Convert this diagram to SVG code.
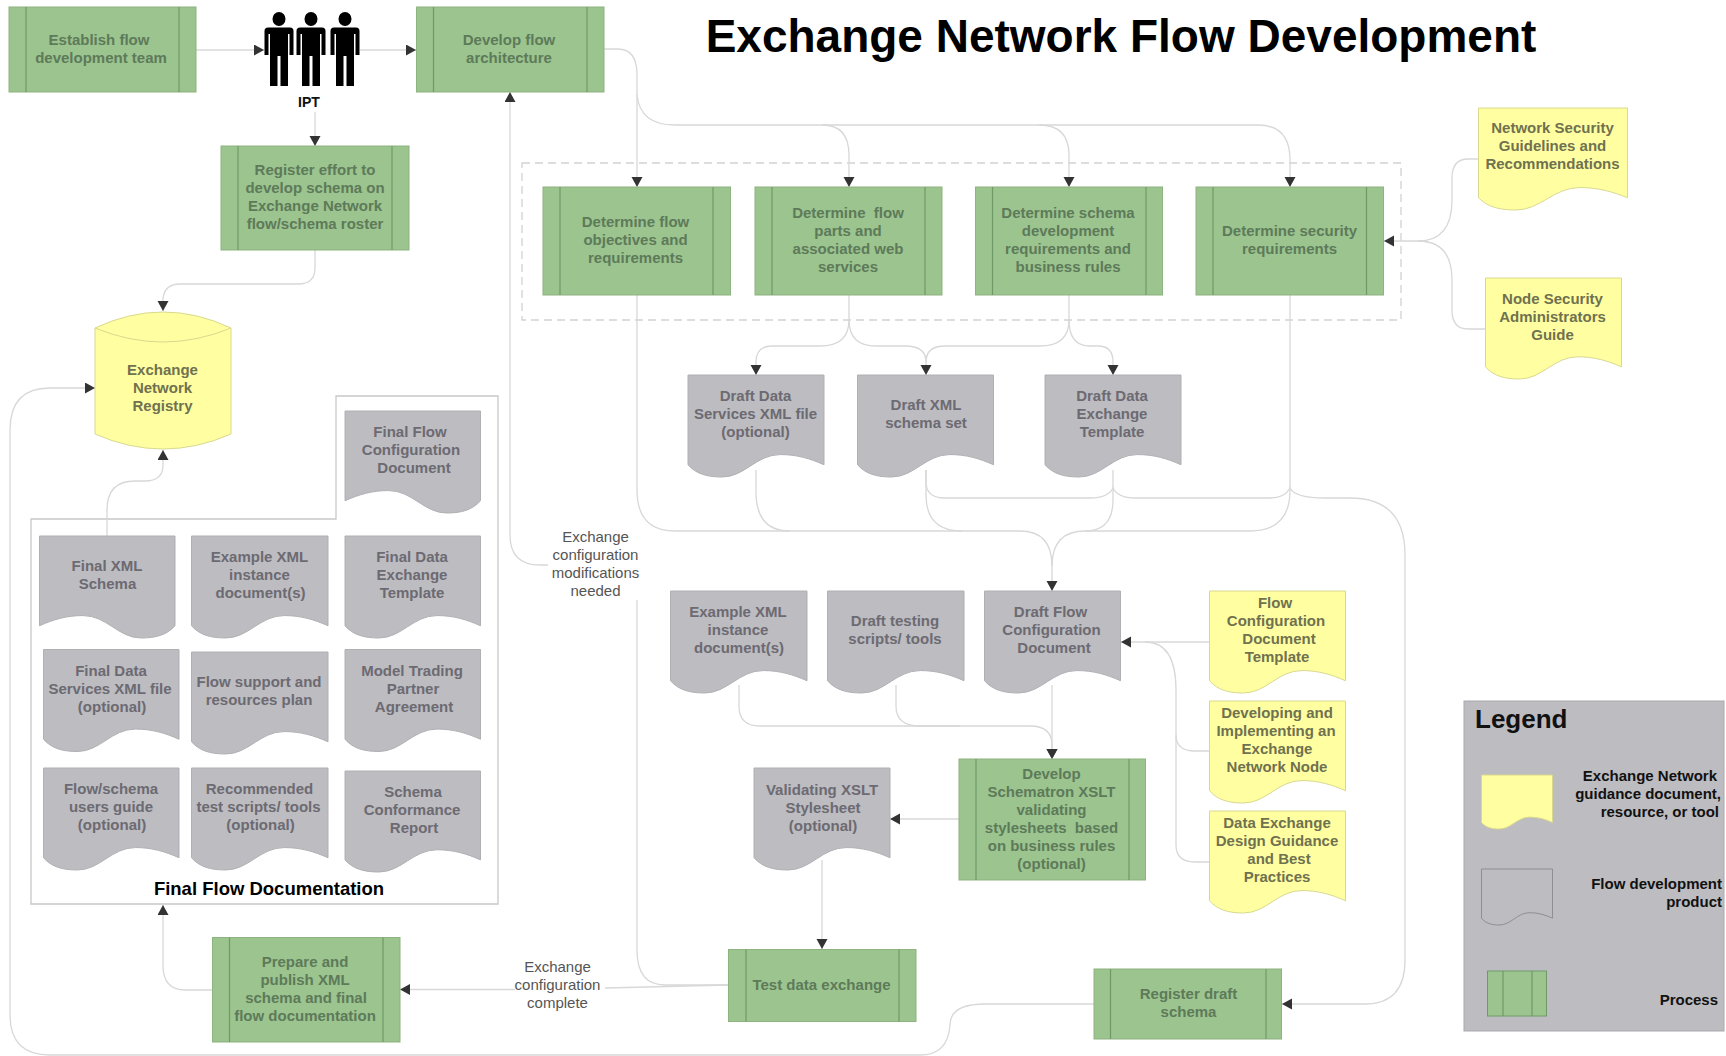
<svg xmlns="http://www.w3.org/2000/svg" width="1726" height="1056" viewBox="0 0 1726 1056">
<style>
text{font-family:"Liberation Sans",Arial,sans-serif;font-size:15px;font-weight:bold;text-anchor:middle;white-space:pre}
.pt{fill:#5d7a5a}.gt{fill:#6c6a72}.yt{fill:#70714f}.bt{fill:#111}.lt{fill:#555;font-weight:normal}
.p{fill:#9cc48e;stroke:#8db380;stroke-width:1}.pl{stroke:#6f9a68;stroke-width:1.2;fill:none}
.g{fill:#bdbcc0;stroke:#b0afb4;stroke-width:1}.y{fill:#ffffa2;stroke:#d9d98e;stroke-width:1}
.c{fill:none;stroke:#d8d8d8;stroke-width:1.3}
.e{text-anchor:end}
</style>
<defs>
<path id="doc" d="M0 0H100V88C90 82 80 78 68 78C50 78 42 100 25 100C14 100 6 97 0 88Z" vector-effect="non-scaling-stroke"/>
<path id="docm" d="M100 0H0V88C10 82 20 78 32 78C50 78 58 100 75 100C86 100 94 97 100 88Z" vector-effect="non-scaling-stroke"/>
<marker id="a" markerUnits="userSpaceOnUse" markerWidth="12" markerHeight="12" refX="10" refY="5.5" orient="auto"><path d="M0 0L10 5.5L0 11Z" fill="#333"/></marker>
<g id="person"><ellipse cx="0" cy="0" rx="6.5" ry="7"/><path d="M-11 8.5H11Q14.5 8.5 14.5 12V36H10.5V15H9V67H1.5V37H-1.5V67H-9V15H-10.5V36H-14.5V12Q-14.5 8.5 -11 8.5Z"/></g>
</defs>
<rect width="1726" height="1056" fill="#fff"/>
<text id="title" x="1121" y="52" class="bt" style="font-size:46px;fill:#000">Exchange Network Flow Development</text>
<rect id="security-group" x="522" y="163" width="879" height="157" fill="none" stroke="#d2d2d2" stroke-width="1.3" stroke-dasharray="8 5"/>
<path id="final-doc-frame" d="M31 519H336V396H498V904H31Z" fill="none" stroke="#c8c8c8" stroke-width="1.3"/>

<g id="connectors" class="c">
<path class="c" marker-end="url(#a)" d="M196 50H264"/>
<path class="c" marker-end="url(#a)" d="M360 50H416"/>
<path class="c" marker-end="url(#a)" d="M315 112V146"/>
<path class="c" marker-end="url(#a)" d="M315 250V268Q315 284 298 284H180Q165 284 163 298V311"/>
<path class="c" marker-end="url(#a)" d="M604 49H618Q637 49 637 75V187"/>
<path class="c" marker-end="url(#a)" d="M637 95Q640 125 675 125H1258Q1290 125 1290 160V187"/>
<path class="c" marker-end="url(#a)" d="M822 125Q849 125 849 155V187"/>
<path class="c" marker-end="url(#a)" d="M1039 125Q1069 125 1069 155V187"/>
<path class="c" marker-end="url(#a)" d="M1479 159H1468Q1452 159 1452 178V200Q1452 241 1418 241H1384"/>
<path class="c" d="M1486 329H1468Q1452 329 1452 310V280Q1452 241 1418 241"/>
<path class="c" marker-end="url(#a)" d="M849 295V320Q849 346 820 346H772Q756 346 756 362V375"/>
<path class="c" marker-end="url(#a)" d="M849 320Q849 346 876 346H905Q926 346 926 362V375"/>
<path class="c" d="M1069 295V320Q1069 346 1040 346H945Q926 346 926 362"/>
<path class="c" marker-end="url(#a)" d="M1069 320Q1069 346 1090 346H1098Q1113 346 1113 362V375"/>
<path class="c" marker-end="url(#a)" d="M637 295V490Q637 531 675 531H1020Q1052 531 1052 566V591"/>
<path class="c" d="M1290 295V490Q1290 531 1250 531H1085Q1052 531 1052 566"/>
<path class="c" d="M756 470V492Q756 531 790 531"/>
<path class="c" d="M926 470V495Q926 531 962 531"/>
<path class="c" d="M1113 470V500Q1113 531 1085 531"/>
<path class="c" marker-end="url(#a)" d="M926 470V482Q926 498 945 498H1090Q1108 498 1113 488Q1118 498 1135 498H1270Q1285 498 1290 488Q1295 498 1325 498H1350Q1405 498 1405 555V960Q1405 1004 1365 1004H1282"/>
<path class="c" marker-end="url(#a)" d="M1052 685V759"/>
<path class="c" marker-end="url(#a)" d="M739 685V706Q739 726 760 726H1030Q1052 726 1052 745V759"/>
<path class="c" d="M896 685V706Q896 726 920 726H960"/>
<path class="c" marker-end="url(#a)" d="M1209 642H1121"/>
<path class="c" d="M1209 751H1195Q1176 751 1176 735V690Q1176 642 1145 642"/>
<path class="c" d="M1209 862H1195Q1176 862 1176 845V735"/>
<path class="c" marker-end="url(#a)" d="M959 819H890"/>
<path class="c" marker-end="url(#a)" d="M822 860V949"/>
<path class="c" d="M728 985L605 988"/>
<path class="c" marker-end="url(#a)" d="M515 989.5H400"/>
<path class="c" d="M728 985H665Q637 985 637 950V600"/>
<path class="c" marker-end="url(#a)" d="M548 565H540Q510 565 510 535V92"/>
<path class="c" marker-end="url(#a)" d="M212 990H185Q163 990 163 965V905"/>
<path class="c" marker-end="url(#a)" d="M1094 1004H985Q950 1004 950 1025Q948 1055 920 1055H50Q10 1055 10 1015V430Q10 388 50 388H95"/>
<path class="c" marker-end="url(#a)" d="M107 536V510Q107 481 135 481H145Q163 481 163 465V450"/>
</g>

<g id="establish-team"><rect class="p" x="9" y="7" width="187" height="85"/><path class="pl" d="M26 7V92M179 7V92"/><text class="pt" x="99" y="45">Establish flow</text><text class="pt" x="101" y="63">development team</text></g>
<g id="ipt"><use href="#person" x="279" y="19"/><use href="#person" x="311" y="19"/><use href="#person" x="345" y="19"/><text class="bt" x="309" y="107" style="font-size:14px">IPT</text></g>
<g id="develop-architecture"><rect class="p" x="416.500" y="7" width="187.500" height="85"/><path class="pl" d="M433.500 7V92M587 7V92"/><text class="pt" x="509" y="45">Develop flow</text><text class="pt" x="509" y="63">architecture</text></g>
<g id="register-effort"><rect class="p" x="221" y="146" width="188" height="104"/><path class="pl" d="M238 146V250M392 146V250"/><text class="pt" x="315" y="175">Register effort to</text><text class="pt" x="315" y="193">develop schema on</text><text class="pt" x="315" y="211">Exchange Network</text><text class="pt" x="315" y="229">flow/schema roster</text></g>
<g id="registry"><path class="y" d="M95 328Q163 296 231 328V434Q163 464 95 434Z"/><path class="y" style="fill:none" d="M95 328Q163 356 231 328"/><text class="yt" x="162.500" y="375">Exchange</text><text class="yt" x="162.500" y="393">Network</text><text class="yt" x="162.500" y="411">Registry</text></g>

<g id="determine-objectives"><rect class="p" x="543" y="187" width="187.500" height="108"/><path class="pl" d="M560 187V295M713 187V295"/><text class="pt" x="635.500" y="227">Determine flow</text><text class="pt" x="635.500" y="245">objectives and</text><text class="pt" x="635.500" y="263">requirements</text></g>
<g id="determine-parts"><rect class="p" x="755" y="187" width="187" height="108"/><path class="pl" d="M772 187V295M925 187V295"/><text class="pt" x="848" y="218">Determine  flow</text><text class="pt" x="848" y="236">parts and</text><text class="pt" x="848" y="254">associated web</text><text class="pt" x="848" y="272">services</text></g>
<g id="determine-schema"><rect class="p" x="975.500" y="187" width="187" height="108"/><path class="pl" d="M992.500 187V295M1146 187V295"/><text class="pt" x="1068" y="218">Determine schema</text><text class="pt" x="1068" y="236">development</text><text class="pt" x="1068" y="254">requirements and</text><text class="pt" x="1068" y="272">business rules</text></g>
<g id="determine-security"><rect class="p" x="1196" y="187" width="187.500" height="108"/><path class="pl" d="M1213 187V295M1366.500 187V295"/><text class="pt" x="1289.500" y="236">Determine security</text><text class="pt" x="1289.500" y="254">requirements</text></g>

<g id="network-security"><use href="#doc" class="y" transform="translate(1478.500 108) scale(1.49 1.02)"/><text class="yt" x="1552.500" y="133">Network Security</text><text class="yt" x="1552.500" y="151">Guidelines and</text><text class="yt" x="1552.500" y="169">Recommendations</text></g>
<g id="node-security"><use href="#doc" class="y" transform="translate(1485.500 278) scale(1.36 1.01)"/><text class="yt" x="1552.500" y="303.500">Node Security</text><text class="yt" x="1552.500" y="321.500">Administrators</text><text class="yt" x="1552.500" y="339.500">Guide</text></g>

<g id="draft-services"><use href="#doc" class="g" transform="translate(688 375) scale(1.36 1.02)"/><text class="gt" x="755.500" y="401">Draft Data</text><text class="gt" x="755.500" y="419">Services XML file</text><text class="gt" x="755.500" y="437">(optional)</text></g>
<g id="draft-schema"><use href="#doc" class="g" transform="translate(857.500 375) scale(1.36 1.02)"/><text class="gt" x="926" y="410">Draft XML</text><text class="gt" x="926" y="428">schema set</text></g>
<g id="draft-template"><use href="#doc" class="g" transform="translate(1045 375) scale(1.36 1.02)"/><text class="gt" x="1112" y="401">Draft Data</text><text class="gt" x="1112" y="419">Exchange</text><text class="gt" x="1112" y="437">Template</text></g>

<g id="final-config"><use href="#docm" class="g" transform="translate(345 411) scale(1.355 1.02)"/><text class="gt" x="410" y="437">Final Flow</text><text class="gt" x="411" y="455">Configuration</text><text class="gt" x="414" y="473">Document</text></g>
<g id="final-schema"><use href="#docm" class="g" transform="translate(39.500 536) scale(1.355 1.02)"/><text class="gt" x="107" y="571">Final XML</text><text class="gt" x="107.500" y="589">Schema</text></g>
<g id="final-example"><use href="#doc" class="g" transform="translate(191.500 536) scale(1.365 1.02)"/><text class="gt" x="259.500" y="562">Example XML</text><text class="gt" x="259.500" y="580">instance</text><text class="gt" x="260.500" y="598">document(s)</text></g>
<g id="final-template"><use href="#doc" class="g" transform="translate(345 536) scale(1.355 1.02)"/><text class="gt" x="412" y="562">Final Data</text><text class="gt" x="412" y="580">Exchange</text><text class="gt" x="412" y="598">Template</text></g>
<g id="final-services"><use href="#doc" class="g" transform="translate(43.500 649.500) scale(1.355 1.02)"/><text class="gt" x="111" y="676">Final Data</text><text class="gt" x="110" y="694">Services XML file</text><text class="gt" x="112" y="712">(optional)</text></g>
<g id="final-support"><use href="#doc" class="g" transform="translate(191.500 652) scale(1.365 1.02)"/><text class="gt" x="259" y="687">Flow support and</text><text class="gt" x="259" y="705">resources plan</text></g>
<g id="final-agreement"><use href="#doc" class="g" transform="translate(345 649.500) scale(1.355 1.02)"/><text class="gt" x="412" y="676">Model Trading</text><text class="gt" x="413" y="694">Partner</text><text class="gt" x="414" y="712">Agreement</text></g>
<g id="final-guide"><use href="#doc" class="g" transform="translate(43.500 768) scale(1.355 1.02)"/><text class="gt" x="111" y="794">Flow/schema</text><text class="gt" x="111" y="812">users guide</text><text class="gt" x="112" y="830">(optional)</text></g>
<g id="final-scripts"><use href="#doc" class="g" transform="translate(191.500 768) scale(1.365 1.02)"/><text class="gt" x="259.500" y="794">Recommended</text><text class="gt" x="258.500" y="812">test scripts/ tools</text><text class="gt" x="260.500" y="830">(optional)</text></g>
<g id="final-report"><use href="#doc" class="g" transform="translate(345 771) scale(1.355 1.01)"/><text class="gt" x="413" y="797">Schema</text><text class="gt" x="412" y="815">Conformance</text><text class="gt" x="414" y="833">Report</text></g>
<text id="final-title" class="bt" x="269" y="895" style="font-size:18.500px;fill:#000">Final Flow Documentation</text>

<g id="label-modifications"><text class="lt" x="595.500" y="542">Exchange</text><text class="lt" x="595.500" y="560">configuration</text><text class="lt" x="595.500" y="578">modifications</text><text class="lt" x="595.500" y="596">needed</text></g>
<g id="label-complete"><text class="lt" x="557.500" y="972">Exchange</text><text class="lt" x="557.500" y="990">configuration</text><text class="lt" x="557.500" y="1008">complete</text></g>

<g id="draft-example"><use href="#doc" class="g" transform="translate(670.500 591) scale(1.365 1.02)"/><text class="gt" x="738" y="617">Example XML</text><text class="gt" x="738" y="635">instance</text><text class="gt" x="739" y="653">document(s)</text></g>
<g id="draft-testing"><use href="#doc" class="g" transform="translate(827.500 591) scale(1.365 1.02)"/><text class="gt" x="895" y="626">Draft testing</text><text class="gt" x="895" y="644">scripts/ tools</text></g>
<g id="draft-config"><use href="#doc" class="g" transform="translate(984.500 591) scale(1.36 1.02)"/><text class="gt" x="1050.500" y="617">Draft Flow</text><text class="gt" x="1051.500" y="635">Configuration</text><text class="gt" x="1054" y="653">Document</text></g>
<g id="config-template"><use href="#doc" class="y" transform="translate(1209.500 591) scale(1.36 1.02)"/><text class="yt" x="1275" y="608">Flow</text><text class="yt" x="1276" y="626">Configuration</text><text class="yt" x="1279" y="644">Document</text><text class="yt" x="1277" y="662">Template</text></g>
<g id="developing-node"><use href="#doc" class="y" transform="translate(1209.500 701) scale(1.36 1.02)"/><text class="yt" x="1277" y="718">Developing and</text><text class="yt" x="1276" y="736">Implementing an</text><text class="yt" x="1277" y="754">Exchange</text><text class="yt" x="1277" y="772">Network Node</text></g>
<g id="design-guidance"><use href="#doc" class="y" transform="translate(1209.500 811) scale(1.36 1.02)"/><text class="yt" x="1277" y="828">Data Exchange</text><text class="yt" x="1277" y="846">Design Guidance</text><text class="yt" x="1279" y="864">and Best</text><text class="yt" x="1277" y="882">Practices</text></g>

<g id="develop-schematron"><rect class="p" x="959" y="759" width="186.500" height="121"/><path class="pl" d="M976 759V880M1129 759V880"/><text class="pt" x="1051.500" y="779">Develop</text><text class="pt" x="1051.500" y="797">Schematron XSLT</text><text class="pt" x="1051.500" y="815">validating</text><text class="pt" x="1051.500" y="833">stylesheets  based</text><text class="pt" x="1051.500" y="851">on business rules</text><text class="pt" x="1051.500" y="869">(optional)</text></g>
<g id="validating-xslt"><use href="#doc" class="g" transform="translate(754 768) scale(1.36 1.02)"/><text class="gt" x="822" y="795">Validating XSLT</text><text class="gt" x="823" y="813">Stylesheet</text><text class="gt" x="823" y="831">(optional)</text></g>
<g id="test-exchange"><rect class="p" x="728.500" y="949.500" width="187.500" height="72"/><path class="pl" d="M746 949.500V1021.500M899 949.500V1021.500"/><text class="pt" x="821.500" y="990">Test data exchange</text></g>
<g id="register-draft"><rect class="p" x="1094" y="969" width="187.500" height="70"/><path class="pl" d="M1110.500 969V1039M1266 969V1039"/><text class="pt" x="1188.500" y="999">Register draft</text><text class="pt" x="1188.500" y="1017">schema</text></g>
<g id="prepare-publish"><rect class="p" x="212.500" y="937.500" width="187.500" height="104.500"/><path class="pl" d="M229.500 937.500V1042M383 937.500V1042"/><text class="pt" x="305" y="967">Prepare and</text><text class="pt" x="305" y="985">publish XML</text><text class="pt" x="306" y="1003">schema and final</text><text class="pt" x="305" y="1021">flow documentation</text></g>

<g id="legend">
<rect x="1464" y="701" width="260" height="330" fill="#bdbcc0" stroke="#aaa9ae"/>
<text class="bt" x="1475" y="728" style="font-size:26px;text-anchor:start">Legend</text>
<use href="#doc" class="y" transform="translate(1481.500 775) scale(.71 .54)"/>
<use href="#doc" class="g" style="stroke:#8f8e94" transform="translate(1481.500 869) scale(.71 .56)"/>
<rect x="1487.500" y="971" width="59" height="45" fill="#9cc48e" stroke="#6f9a68"/><path class="pl" d="M1503 971V1016M1532 971V1016"/>
<text class="bt e" x="1717" y="781">Exchange Network</text><text class="bt e" x="1721" y="799">guidance document,</text><text class="bt e" x="1719" y="817">resource, or tool</text>
<text class="bt e" x="1722" y="889">Flow development</text><text class="bt e" x="1722" y="907">product</text>
<text class="bt e" x="1718" y="1005">Process</text>
</g>
</svg>
